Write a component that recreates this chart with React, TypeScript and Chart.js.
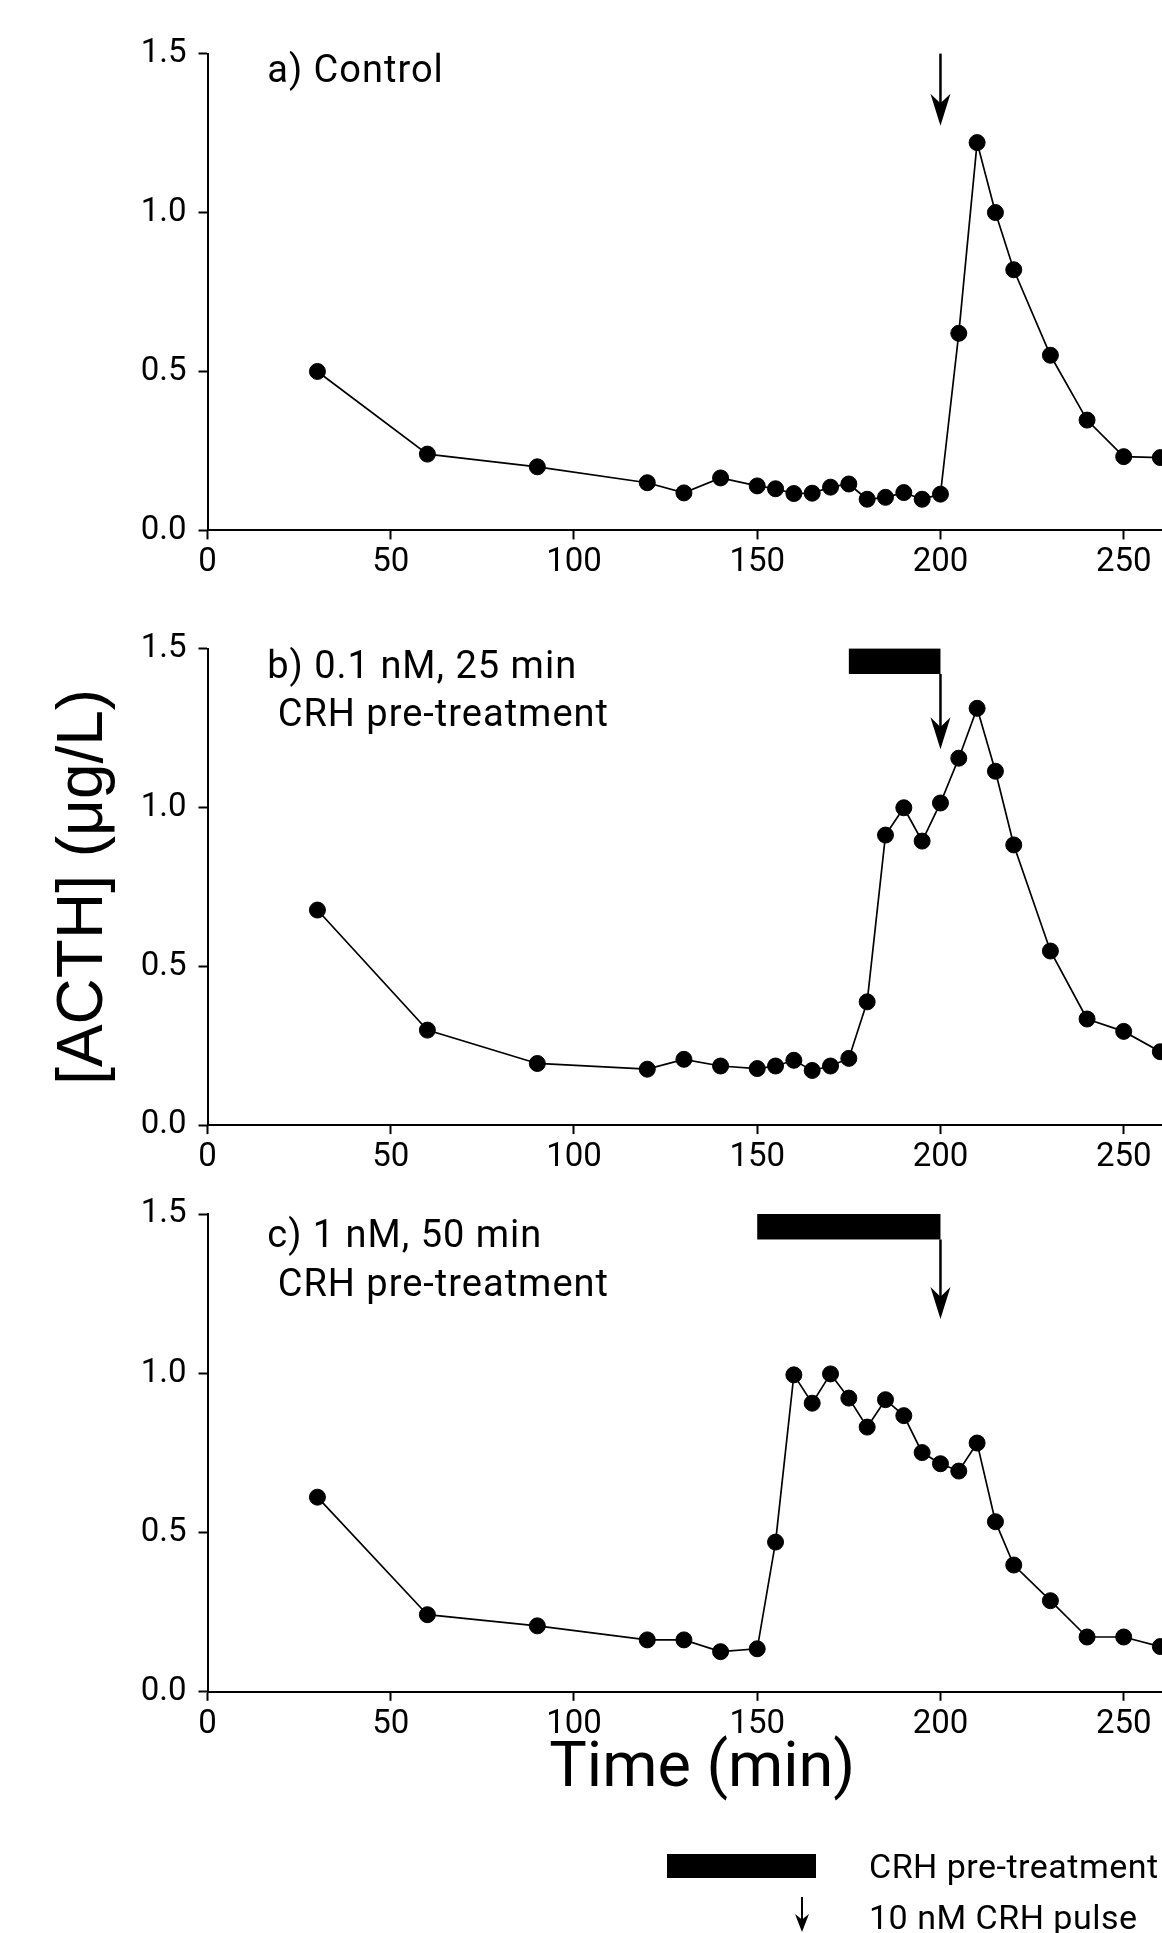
import React, { useEffect, useRef } from 'react';
import { Chart, registerables } from 'chart.js';

Chart.register(...registerables);

// ---- data ----
const TIME = [30, 60, 90, 120, 130, 140, 150, 155, 160, 165, 170, 175, 180, 185, 190, 195, 200, 205, 210, 215, 220, 230, 240, 250, 260];
const ACTH_CONTROL = [0.50, 0.24, 0.20, 0.15, 0.118, 0.165, 0.14, 0.131, 0.116, 0.117, 0.136, 0.146, 0.098, 0.104, 0.119, 0.098, 0.114, 0.62, 1.22, 1.0, 0.82, 0.551, 0.347, 0.232, 0.229];
const ACTH_01NM = [0.677, 0.299, 0.194, 0.176, 0.207, 0.186, 0.178, 0.186, 0.204, 0.172, 0.186, 0.21, 0.388, 0.913, 0.999, 0.894, 1.014, 1.155, 1.312, 1.114, 0.882, 0.548, 0.334, 0.295, 0.231];
const ACTH_1NM = [0.611, 0.242, 0.207, 0.163, 0.163, 0.126, 0.135, 0.47, 0.995, 0.906, 0.998, 0.922, 0.831, 0.917, 0.867, 0.751, 0.716, 0.693, 0.781, 0.534, 0.398, 0.286, 0.172, 0.172, 0.142];
const X_TICKS = [0, 50, 100, 150, 200, 250];
const Y_TICKS = [0, 0.5, 1.0, 1.5];
const X_MIN = 0;
const X_MAX = 270;
const Y_MIN = 0;
const Y_MAX = 1.5;
const PANEL_TEXT = [
  ['a) Control'],
  ['b) 0.1 nM, 25 min', ' CRH pre-treatment'],
  ['c) 1 nM, 50 min', ' CRH pre-treatment'],
];
const PANEL_TEXT_X = 16.3;
const PANEL_TEXT_Y = [[1.41], [1.407, 1.256], [1.397, 1.243]];
const PULSE_TIME = 200;
const PRETREAT_START = [null, 175, 150];
const BAR_RANGE = [1.42, 1.5];
const ARROW_TIP = [1.273, 1.183, 1.17];
const LEGEND_LABELS = ['CRH pre-treatment', '10 nM CRH pulse'];
const Y_TITLE = '[ACTH] (μg/L)';
const X_TITLE = 'Time (min)';

// ---- layout (pixels) ----
const CANVAS_W = 1197;
const AXIS_LEFT = 207.5;
const PANELS = [
  { top: 0, height: 600, padTop: 53.6, axisH: 69.6, values: ACTH_CONTROL },
  { top: 600, height: 600, padTop: 48.6, axisH: 74.9, values: ACTH_01NM },
  { top: 1160, height: 773, padTop: 54, axisH: 241.2, values: ACTH_1NM },
];

function drawArrow(ctx: CanvasRenderingContext2D, x: number, yTop: number, yTip: number, shaftW: number, headLen: number, halfW: number) {
  ctx.beginPath();
  ctx.lineWidth = shaftW;
  ctx.moveTo(x, yTop);
  ctx.lineTo(x, yTip - headLen * 0.5);
  ctx.stroke();
  ctx.beginPath();
  ctx.moveTo(x, yTip);
  ctx.lineTo(x - halfW, yTip - headLen);
  ctx.lineTo(x, yTip - headLen * 0.7);
  ctx.lineTo(x + halfW, yTip - headLen);
  ctx.closePath();
  ctx.fill();
}

const notesPlugin = {
  id: 'panelNotes',
  afterDraw(chart: any, _args: any, opts: any) {
    const { ctx } = chart;
    const xs = chart.scales.x;
    const ys = chart.scales.y;
    const i = opts.index;
    ctx.save();
    ctx.fillStyle = '#000';
    ctx.strokeStyle = '#000';
    // panel text
    ctx.font = '38px Roboto';
    (ctx as any).letterSpacing = '1px';
    ctx.textAlign = 'left';
    ctx.textBaseline = 'alphabetic';
    PANEL_TEXT[i].forEach((t, k) => {
      ctx.fillText(t, xs.getPixelForValue(PANEL_TEXT_X), ys.getPixelForValue(PANEL_TEXT_Y[i][k]));
    });
    // pre-treatment bar
    const ax = xs.getPixelForValue(PULSE_TIME);
    let arrowTop = ys.getPixelForValue(Y_MAX);
    const start = PRETREAT_START[i];
    if (start !== null) {
      const x0 = xs.getPixelForValue(start);
      const y0 = ys.getPixelForValue(BAR_RANGE[1]);
      const y1 = ys.getPixelForValue(BAR_RANGE[0]);
      ctx.fillRect(x0, y0, ax - x0, y1 - y0);
      arrowTop = y1;
    }
    // pulse arrow
    drawArrow(ctx, ax, arrowTop, ys.getPixelForValue(ARROW_TIP[i]), 2.5, 32, 10);

    // legend (bottom panel only)
    if (opts.legend) {
      ctx.fillRect(667, 694, 149, 24);
      drawArrow(ctx, 802, 737, 772, 2, 18, 7);
      ctx.font = '34px Roboto';
      (ctx as any).letterSpacing = '0.5px';
      ctx.fillText(LEGEND_LABELS[0], 869, 718);
      ctx.fillText(LEGEND_LABELS[1], 869, 769);
    }
    ctx.restore();
  },
};

function makeConfig(p: any, i: number): any {
  const tickFont = { family: 'Roboto', size: 33, lineHeight: 1.2 };
  return {
    type: 'scatter',
    data: {
      datasets: [
        {
          data: TIME.map((t, k) => ({ x: t, y: p.values[k] })),
          showLine: true,
          borderColor: '#000',
          borderWidth: 1.7,
          pointRadius: 8,
          pointBackgroundColor: '#000',
          pointBorderColor: '#000',
          pointBorderWidth: 1,
          tension: 0,
        },
      ],
    },
    options: {
      animation: false,
      responsive: false,
      maintainAspectRatio: false,
      events: [],
      layout: { autoPadding: false, padding: { top: p.padTop, left: 0, right: 0, bottom: 0 } },
      plugins: {
        legend: { display: false },
        tooltip: { enabled: false },
        panelNotes: { index: i, legend: i === 2 },
      },
      scales: {
        x: {
          type: 'linear',
          min: X_MIN,
          max: X_MAX,
          afterBuildTicks: (s: any) => {
            s.ticks = X_TICKS.map((v) => ({ value: v }));
          },
          afterFit: (s: any) => {
            s.height = p.axisH;
          },
          ticks: { font: tickFont, color: '#000', padding: 4, maxRotation: 0, autoSkip: false },
          grid: { display: true, drawOnChartArea: false, drawTicks: true, tickLength: 9, tickWidth: 2, tickColor: '#000' },
          border: { display: true, color: '#000', width: 2 },
          title: {
            display: i === 2,
            text: X_TITLE,
            color: '#000',
            font: { family: 'Roboto', size: 63, lineHeight: 1.2 },
            padding: { top: 0, bottom: 125 },
          },
        },
        y: {
          type: 'linear',
          min: Y_MIN,
          max: Y_MAX,
          afterBuildTicks: (s: any) => {
            s.ticks = Y_TICKS.map((v) => ({ value: v }));
          },
          afterFit: (s: any) => {
            s.width = AXIS_LEFT;
          },
          ticks: { font: tickFont, color: '#000', padding: 12, callback: (v: number) => Number(v).toFixed(1) },
          grid: { display: true, drawOnChartArea: false, drawTicks: true, tickLength: 9, tickWidth: 2, tickColor: '#000' },
          border: { display: true, color: '#000', width: 2 },
          title: {
            display: i === 1,
            text: Y_TITLE,
            color: '#000',
            font: { family: 'Liberation Sans', size: 64, lineHeight: 1 },
            padding: { top: 52, bottom: 0 },
          },
        },
      },
    },
    plugins: [notesPlugin],
  };
}

export default function App() {
  const r0 = useRef<HTMLCanvasElement>(null);
  const r1 = useRef<HTMLCanvasElement>(null);
  const r2 = useRef<HTMLCanvasElement>(null);
  const refs = [r0, r1, r2];
  useEffect(() => {
    const charts = PANELS.map((p, i) => new Chart(refs[i].current as HTMLCanvasElement, makeConfig(p, i)));
    return () => charts.forEach((c) => c.destroy());
  }, []);
  return (
    <div style={{ position: 'absolute', left: 0, top: 0, width: 1162, height: 1933, overflow: 'hidden', background: '#fff' }}>
      {PANELS.map((p, i) => (
        <canvas
          key={i}
          ref={refs[i]}
          width={CANVAS_W}
          height={p.height}
          style={{ position: 'absolute', left: 0, top: p.top, width: CANVAS_W, height: p.height }}
        />
      ))}
    </div>
  );
}
